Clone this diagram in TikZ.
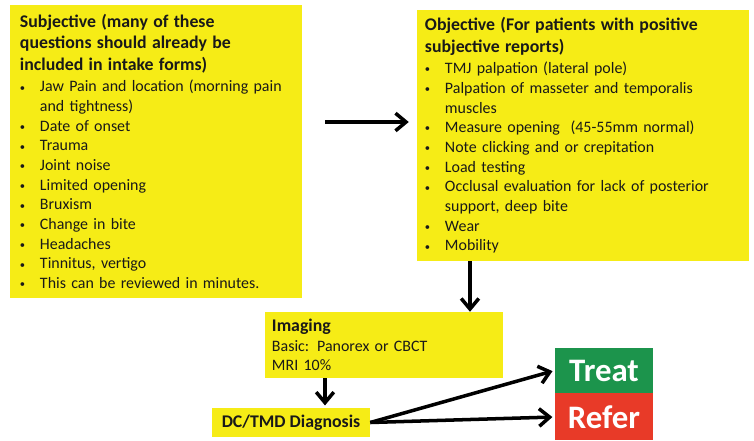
\documentclass[tikz,border=0pt]{standalone}
\usepackage{fontspec}
\setmainfont{Carlito}
\usepackage{xcolor}
\usetikzlibrary{arrows.meta,positioning}

\definecolor{boxyellow}{RGB}{246,236,22}
\definecolor{treatgreen}{RGB}{28,148,76}
\definecolor{referred}{RGB}{232,58,40}
\newcommand{\itm}{\makebox[0.6cm][l]{\raisebox{0.1ex}{\small\textbullet}}}
\newcommand{\ind}{\hspace*{0.6cm}}
\newcommand{\hd}[1]{{\fontsize{15.2}{21}\selectfont\bfseries #1}}

\begin{document}
\begin{tikzpicture}[
  x=0.03cm, y=-0.03cm,
  b/.style={fill=boxyellow, inner sep=0pt, align=left, text=black!90, font=\fontsize{13.6}{16.8}\selectfont},
  d/.style={inner sep=0pt, text=white, align=center, font=\fontsize{28}{30}\selectfont\bfseries},
  a/.style={-{Straight Barb[length=9pt, width=15pt]}, line width=3pt}
]
  \useasboundingbox (0,0) rectangle (754,440);

  \node[b, minimum width=8.76cm, minimum height=8.79cm, text width=8.16cm] (subj) at (156,151.5) {%
    \hd{Subjective (many of these}\\[1.5pt]
    \hd{questions should already be}\\[1.5pt]
    \hd{included in intake forms)}\\[1.5pt]
    \itm Jaw Pain and location (morning pain\\
    \ind and tightness)\\
    \itm Date of onset\\
    \itm Trauma\\
    \itm Joint noise\\
    \itm Limited opening\\
    \itm Bruxism\\
    \itm Change in bite\\
    \itm Headaches\\
    \itm Tinnitus, vertigo\\
    \itm This can be reviewed in minutes.};

  \node[b, minimum width=9.96cm, minimum height=7.53cm, text width=9.48cm] (obj) at (583,135.5) {%
    \hd{Objective (For patients with positive}\\[1.5pt]
    \hd{subjective reports)}\\[1.5pt]
    \itm TMJ palpation (lateral pole)\\
    \itm Palpation of masseter and temporalis\\
    \ind muscles\\
    \itm Measure opening~ (45-55mm normal)\\
    \itm Note clicking and or crepitation\\
    \itm Load testing\\
    \itm Occlusal evaluation for lack of posterior\\
    \ind support, deep bite\\
    \itm Wear\\
    \itm Mobility};

  \node[b, minimum width=7.14cm, minimum height=1.98cm, text width=6.72cm] (img) at (384,345) {%
    \hd{Imaging}\\
    Basic: Panorex or CBCT\\
    MRI 10\%};

  \node[b, align=center, minimum width=4.74cm, minimum height=0.87cm] (diag) at (291,422.5) {\hd{DC/TMD Diagnosis}};

  \node[d, fill=treatgreen, minimum width=2.94cm, minimum height=1.35cm] (treat) at (604,370.5) {Treat};
  \node[d, fill=referred, minimum width=2.94cm, minimum height=1.41cm, below=0pt of treat] (refer) {Refer};

  \coordinate (h) at (0,122);
  \coordinate (v1) at (470,0);
  \coordinate (v2) at (325,0);

  \draw[a, shorten <=0.69cm, shorten >=0.24cm] (subj.east |- h) -- (obj.west |- h);
  \draw[a] (obj.south -| v1) -- (img.north -| v1);
  \draw[a, shorten >=2pt] (img.south -| v2) -- (diag.north -| v2);
  \draw[a, shorten >=2pt] (diag.east) -- (treat.west);
  \draw[a, shorten >=2pt] (diag.east) -- (refer.west);
\end{tikzpicture}
\end{document}
